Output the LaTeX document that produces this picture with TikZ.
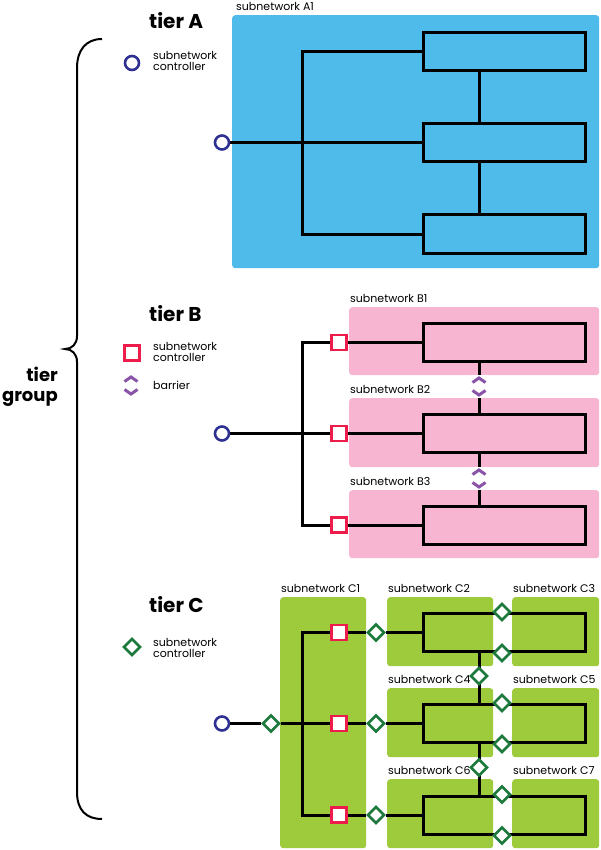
\documentclass[tikz,border=0pt]{standalone}
\usepackage{fontspec}
\setmainfont{Poppins}
\usetikzlibrary{shapes.geometric}

\definecolor{panelblue}{RGB}{79,187,234}
\definecolor{panelpink}{RGB}{247,181,210}
\definecolor{panelgreen}{RGB}{157,203,59}
\definecolor{ctrlblue}{RGB}{46,49,146}
\definecolor{ctrlred}{RGB}{237,28,75}
\definecolor{ctrlgreen}{RGB}{30,122,60}
\definecolor{barrierpurple}{RGB}{138,84,168}

\begin{document}
\begin{tikzpicture}[
    x=1pt, y=-1pt,
    wire/.style={line width=3pt},
    unit/.style={draw, line width=3pt, minimum width=162pt, minimum height=38pt, inner sep=0pt},
    ctrlA/.style={circle, draw=ctrlblue, fill=white, line width=2.6pt, minimum size=14pt, inner sep=0pt},
    ctrlB/.style={rectangle, draw=ctrlred, fill=white, line width=2.6pt, minimum size=15pt, inner sep=0pt},
    ctrlC/.style={diamond, aspect=1, draw=ctrlgreen, fill=white, line width=2.6pt, minimum size=17pt, inner sep=0pt},
    panel/.style={rounded corners=3pt, inner sep=0pt, anchor=north west},
    netlabel/.style={anchor=base west, inner sep=0pt, font=\fontsize{11}{12}\selectfont, yshift=4.5pt, xshift=1pt},
    legend/.style={anchor=west, align=left, inner sep=0pt, font=\fontsize{11}{11}\selectfont},
    tiertitle/.style={anchor=base west, inner sep=0pt, font=\fontsize{20}{20}\selectfont\bfseries},
    barrierline/.style={draw=barrierpurple, line width=3pt},
    barrier/.pic={
        \fill[white] (-8,-11.5) rectangle (8,11.5);
        \draw[barrierline] (-6.5,-4) -- (0,-8.5) -- (6.5,-4);
        \draw[barrierline] (-6.5,4) -- (0,8.5) -- (6.5,4);
    }
]
    \useasboundingbox (0,0) rectangle (600,850);

    % 左侧大括号
    \draw[line width=2pt] (102,39) .. controls (86,39) and (77,50) .. (77,68) -- (77,336)
        .. controls (77,344) and (72,349) .. (65,349)
        .. controls (72,349) and (77,354) .. (77,362) -- (77,792)
        .. controls (77,810) and (86,819) .. (102,819);
    \node[align=right, anchor=north east, inner sep=0pt, font=\fontsize{18}{20}\selectfont\bfseries] (group) at (58,367) {tier\\group};

    % ===== tier A =====
    \node[tiertitle] (tA) at (149,29) {tier A};
    \node[ctrlA] (legA) at (132,63) {};
    \node[legend] (legAtext) at (153,60.5) {subnetwork\\controller};

    \node[panel, fill=panelblue, minimum width=367pt, minimum height=253pt] (pA1) at (232,15) {};
    \node[netlabel, xshift=3pt] (lA1) at (pA1.north west) {subnetwork A1};

    \node[unit] (a1) at (504.5,51.5) {};
    \node[unit] (a2) at (504.5,142.5) {};
    \node[unit] (a3) at (504.5,234) {};
    \node[ctrlA] (a0) at (222,142.5) {};
    \coordinate (trA) at (302,142.5);

    % 1. 控制器到各单元
    \draw[wire] (a0.east) -- (a2.west);
    \draw[wire] (a1.west) -| (trA) |- (a3.west);
    % 2. 单元之间的竖线
    \draw[wire] ([xshift=-25.5pt]a1.south) -- ([xshift=-25.5pt]a2.north);
    \draw[wire] ([xshift=-25.5pt]a2.south) -- ([xshift=-25.5pt]a3.north);

    % ===== tier B =====
    \node[tiertitle] (tB) at (149,321.5) {tier B};
    \node[ctrlB] (legB) at (132,353) {};
    \node[legend] (legBtext) at (153,351.5) {subnetwork\\controller};
    \pic at (131,385.5) {barrier};
    \node[legend] (legBar) at (153,385.5) {barrier};

    \node[panel, fill=panelpink, minimum width=250pt, minimum height=68pt] (pB1) at (349,307) {};
    \node[panel, fill=panelpink, minimum width=250pt, minimum height=69pt] (pB2) at (349,398) {};
    \node[panel, fill=panelpink, minimum width=250pt, minimum height=68pt] (pB3) at (349,490) {};
    \node[netlabel] (lB1) at (pB1.north west) {subnetwork B1};
    \node[netlabel] (lB2) at (pB2.north west) {subnetwork B2};
    \node[netlabel] (lB3) at (pB3.north west) {subnetwork B3};

    \node[unit] (b1) at (504.5,342.5) {};
    \node[unit] (b2) at (504.5,433.5) {};
    \node[unit] (b3) at (504.5,525) {};
    \node[ctrlA] (b0) at (222,433.5) {};
    \node[ctrlB] (bs1) at (339,342.5) {};
    \node[ctrlB] (bs2) at (339,433.5) {};
    \node[ctrlB] (bs3) at (339,525) {};
    \coordinate (trB) at (302,433.5);

    \draw[wire] (b0.east) -- (bs2.west);
    \draw[wire] (bs1.west) -| (trB) |- (bs3.west);
    \draw[wire] (bs1.east) -- (b1.west);
    \draw[wire] (bs2.east) -- (b2.west);
    \draw[wire] (bs3.east) -- (b3.west);

    % 屏障
    \coordinate (bar1) at (479,386.5);
    \coordinate (bar2) at (479,478.5);
    \draw[wire] (b1.south -| bar1) -- (b2.north -| bar1);
    \draw[wire] (b2.south -| bar2) -- (b3.north -| bar2);
    \pic at (bar1) {barrier};
    \pic at (bar2) {barrier};

    % ===== tier C =====
    \node[tiertitle] (tC) at (149,612.5) {tier C};
    \node[ctrlC] (legC) at (132,647) {};
    \node[legend] (legCtext) at (153,647.5) {subnetwork\\controller};

    \node[panel, fill=panelgreen, minimum width=86pt, minimum height=251pt] (pC1) at (280,597) {};
    \node[panel, fill=panelgreen, minimum width=106pt, minimum height=69pt] (pC2) at (387,597) {};
    \node[panel, fill=panelgreen, minimum width=87pt, minimum height=69pt] (pC3) at (512,597) {};
    \node[panel, fill=panelgreen, minimum width=106pt, minimum height=69pt] (pC4) at (387,688) {};
    \node[panel, fill=panelgreen, minimum width=87pt, minimum height=69pt] (pC5) at (512,688) {};
    \node[panel, fill=panelgreen, minimum width=106pt, minimum height=69pt] (pC6) at (387,779) {};
    \node[panel, fill=panelgreen, minimum width=87pt, minimum height=69pt] (pC7) at (512,779) {};
    \foreach \n in {1,...,7}
        \node[netlabel] (lC\n) at (pC\n.north west) {subnetwork C\n};

    \node[unit] (c2) at (504.5,632.5) {};
    \node[unit] (c4) at (504.5,723.5) {};
    \node[unit] (c6) at (504.5,815) {};
    \node[ctrlA] (c0) at (222,723.5) {};
    \node[ctrlC] (cd0) at (271,723.5) {};
    \coordinate (trC) at (302,723.5);
    \node[ctrlB] (cs1) at (339,632.5) {};
    \node[ctrlB] (cs2) at (339,723.5) {};
    \node[ctrlB] (cs3) at (339,815) {};
    \node[ctrlC] (cd1) at (376,632.5) {};
    \node[ctrlC] (cd2) at (376,723.5) {};
    \node[ctrlC] (cd3) at (376,815) {};

    \draw[wire] (c0.east) -- (cd0.west);
    \draw[wire] (cd0.east) -- (cs2.west);
    \draw[wire] (cs1.west) -| (trC) |- (cs3.west);
    \foreach \i/\b in {1/c2,2/c4,3/c6} {
        \draw[wire] (cs\i.east) -- (cd\i.west);
        \draw[wire] (cd\i.east) -- (\b.west);
    }

    % 单元之间的竖线和控制器
    \coordinate (vC1) at (479,676);
    \coordinate (vC2) at (479,767.5);
    \draw[wire] (c2.south -| vC1) -- (c4.north -| vC1);
    \draw[wire] (c4.south -| vC2) -- (c6.north -| vC2);
    \node[ctrlC] (cv1) at (vC1) {};
    \node[ctrlC] (cv2) at (vC2) {};

    % 单元边上的控制器
    \foreach \b in {c2,c4,c6} {
        \node[ctrlC] (\b t) at ([xshift=-2.5pt]\b.north) {};
        \node[ctrlC] (\b b) at ([xshift=-2.5pt]\b.south) {};
    }

\end{tikzpicture}
\end{document}
